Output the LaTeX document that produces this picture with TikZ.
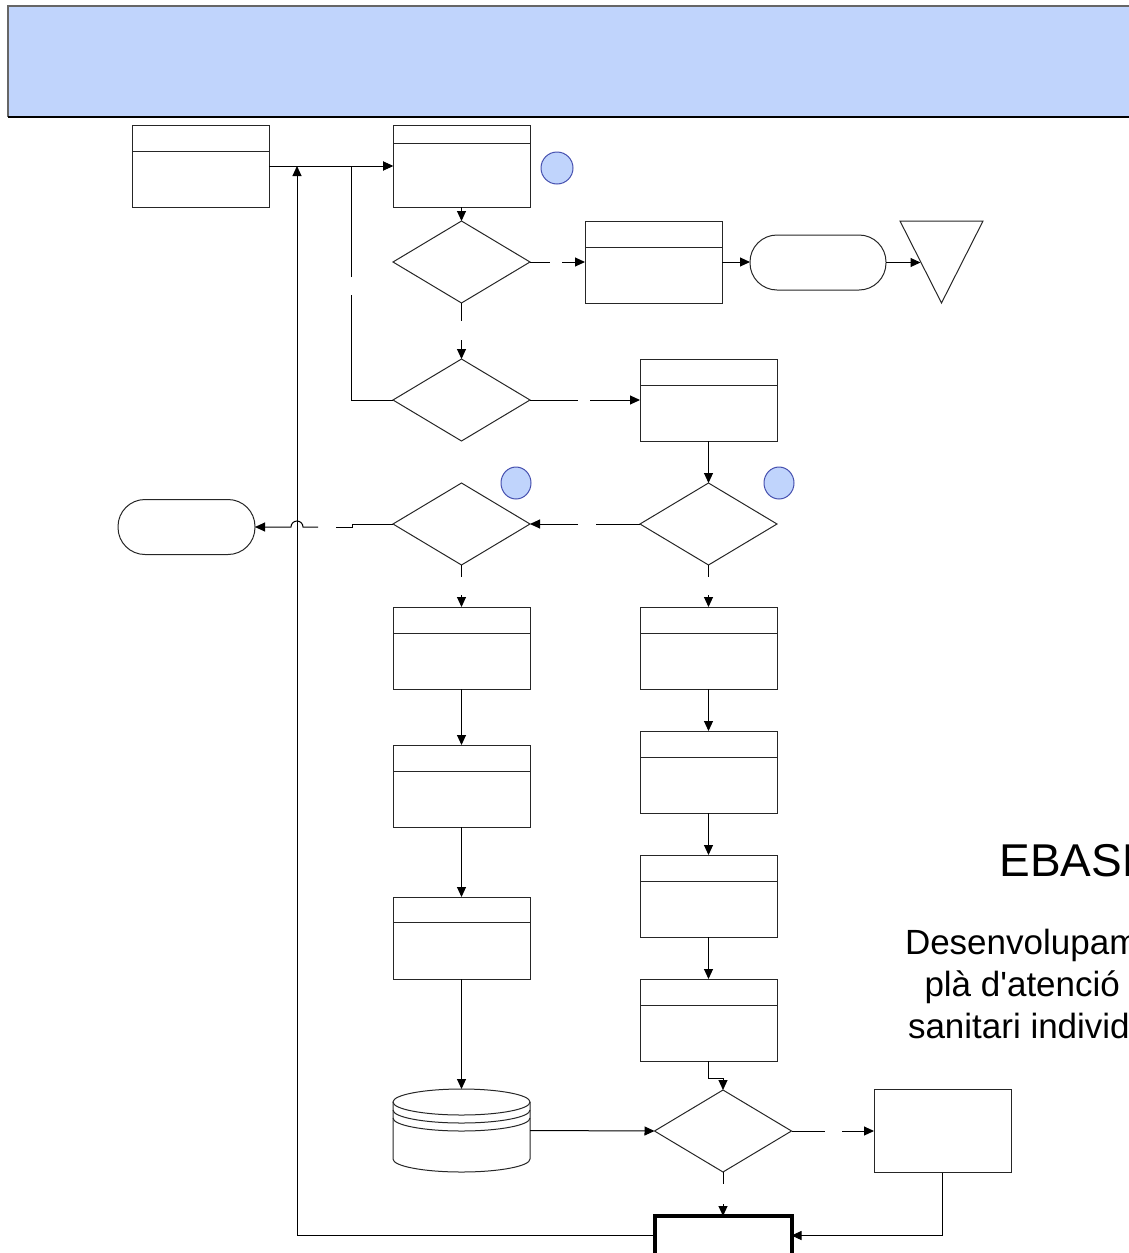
\documentclass[tikz,border=0pt]{standalone}
\usepackage{fontspec}
\setmainfont{Liberation Sans}
\newfontfamily\txtfont{Liberation Sans}
\usetikzlibrary{arrows.meta,shapes.geometric,calc}
\definecolor{hdrblue}{RGB}{192,212,252}
\definecolor{circborder}{RGB}{70,80,175}
\begin{document}
\begin{tikzpicture}[x=1pt,y=-1pt,
  every node/.style={inner sep=0pt, outer sep=0pt},
  shp/.style={line width=1pt, draw=black!85},
  ln/.style={line width=1pt, draw=black},
  arr/.style={line width=1pt, draw=black, -{Triangle[length=10pt,width=9pt]}},
  proc/.style={shp, rectangle, minimum width=137pt, minimum height=82pt},
  split/.style={path picture={\draw[line width=1pt, black!85] ([yshift=-#1]path picture bounding box.north west) -- ([yshift=-#1]path picture bounding box.north east);}},
  dec/.style={shp, diamond, minimum width=137pt, minimum height=82pt},
  term/.style={shp, rectangle, rounded corners=27pt, minimum width=137pt, minimum height=55pt},
  connmark/.style={draw=circborder, fill=hdrblue, line width=1pt, ellipse, minimum width=#1, minimum height=32pt},
  bigtxt/.style={anchor=base west, font=\txtfont\fontsize{46}{50}\selectfont},
  medtxt/.style={anchor=base west, font=\txtfont\fontsize{35}{40}\selectfont}
]
\useasboundingbox (0,0) rectangle (1129,1253);
\clip (0,0) rectangle (1129,1253);

% header band
\node (header) [fill=hdrblue, minimum width=1135pt, minimum height=111pt, anchor=north west] at (8,6) {};
\draw[line width=2pt, black!60] (1140,6) -- (8,6) -- (8,117);
\draw[line width=2pt, black] (8,117) -- (1140,117);

% process boxes
\node (a)  [proc, split=26pt] at (200.5,166) {};
\node (b)  [proc, split=18pt] at (461.5,166) {};
\node (c)  [proc, split=26pt] at (653.5,262) {};
\node (e)  [proc, split=26pt] at (708.5,400) {};
\node (f1) [proc, split=26pt] at (461.5,648) {};
\node (f2) [proc, split=26pt] at (461.5,786) {};
\node (f3) [proc, split=25pt] at (461.5,938) {};
\node (g1) [proc, split=26pt] at (708.5,648) {};
\node (g2) [proc, split=26pt] at (708.5,772) {};
\node (g3) [proc, split=26pt] at (708.5,896) {};
\node (g4) [proc, split=26pt] at (708.5,1020) {};
\node (h)  [proc, minimum height=83pt] at (942.5,1131) {};
\node (k)  [draw=black, line width=4pt, rectangle, minimum width=137pt, minimum height=39pt] at (723,1235.5) {};

% decisions
\node (d1) [dec] at (461.5,262) {};
\node (d2) [dec] at (461.5,400) {};
\node (d3) [dec] at (461.5,524) {};
\node (d4) [dec] at (708.5,524) {};
\node (d5) [dec] at (723,1131) {};

% terminators
\node (t1) [term, minimum width=136pt] at (818,262.5) {};
\node (t2) [term] at (186.5,527) {};

% off-page triangle
\draw[shp] (900,221) -- (983,221) -- (941.5,303) -- cycle;
\coordinate (tri) at (920.5,262.5);

% connector marks
\node (m1) [connmark=32pt] at (557,168) {};
\node (m2) [connmark=30pt] at (516,483) {};
\node (m3) [connmark=30pt] at (779,483) {};

% database
\node (db) [minimum width=137pt, minimum height=83pt] at (461.5,1130.5) {};
\draw[shp, fill=white] (393,1102) -- (393,1159) arc[start angle=180, end angle=360, x radius=68.5pt, y radius=13pt] -- (530,1102);
\draw[shp] (461.5,1102) ellipse [x radius=68.5pt, y radius=13pt];
\draw[shp] (393,1110) arc[start angle=180, end angle=360, x radius=68.5pt, y radius=13pt];
\draw[shp] (393,1118) arc[start angle=180, end angle=360, x radius=68.5pt, y radius=13pt];

% connectors
\draw[arr] (a.east) -- (b.west);
\draw[arr] (k.west) -- (297,1235.5) -- (297,166);
\draw[ln] (d2.west) -- (351,400) -- (351,295);
\draw[arr] (351,277) -- (351,166) -- (b.west);
\draw[arr] (b.south) -- (d1.north);
\draw[ln] (d1.east) -- (550,262);
\draw[arr] (562,262) -- (c.west);
\draw[arr] (c.east) -- (t1.west |- c.east);
\draw[arr] (t1.east) -- (tri);
\draw[ln] (d1.south) -- (461.5,321);
\draw[arr] (461.5,340) -- (d2.north);
\draw[ln] (d2.east) -- (578,400);
\draw[arr] (590,400) -- (e.west);
\draw[arr] (e.south) -- (d4.north);
\draw[ln] (d4.west) -- (596,524);
\draw[arr] (578,524) -- (d3.east);
\draw[ln] (d3.west) -- (352,524) -- (352,527) -- (336,527);
\draw[arr] (318,527) -- (303,527) arc[start angle=0, end angle=180, radius=6pt] -- (t2.east);
\draw[ln] (d3.south) -- (461.5,577);
\draw[arr] (461.5,595) -- (f1.north);
\draw[ln] (d4.south) -- (708.5,577);
\draw[arr] (708.5,595) -- (g1.north);
\draw[arr] (f1.south) -- (f2.north);
\draw[arr] (f2.south) -- (f3.north);
\draw[arr] (f3.south) -- (db.north);
\draw[arr] (g1.south) -- (g2.north);
\draw[arr] (g2.south) -- (g3.north);
\draw[arr] (g3.south) -- (g4.north);
\draw[arr] (g4.south) -- (708.5,1078) -- (723,1078) -- (d5.north);
\draw[arr] (db.east) -- (d5.west);
\draw[ln] (d5.east) -- (825,1131);
\draw[arr] (842,1131) -- (h.west);
\draw[ln] (d5.south) -- (723,1184);
\draw[arr] (723,1204) -- (k.north);
\draw[arr] (h.south) -- (h.south |- k.east) -- (k.east);

% title texts (cut by the right edge, as in the reference)
\node (title) [bigtxt] at (999.5,876) {EBASP};
\node (sub1) [medtxt] at (905,954) {Desenvolupam};
\node (sub2) [medtxt] at (924.5,996) {plà d'atenció};
\node (sub3) [medtxt] at (908,1038) {sanitari individ};
\end{tikzpicture}
\end{document}
